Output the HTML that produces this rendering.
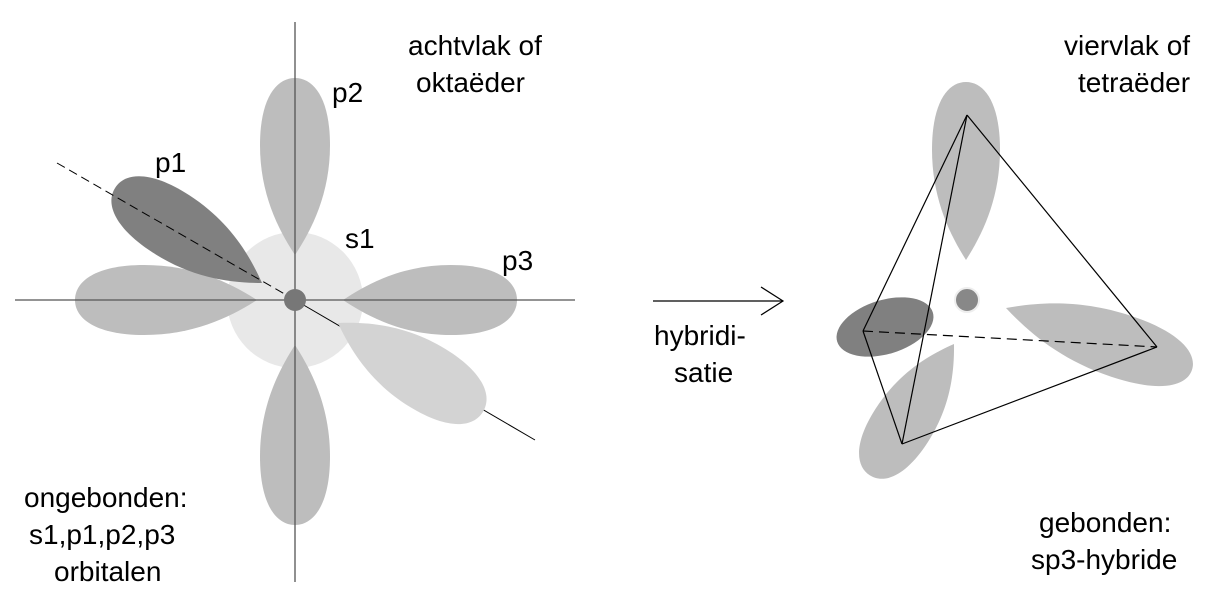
<!DOCTYPE html>
<html><head><meta charset="utf-8"><style>
html,body{margin:0;padding:0;background:#fff;}
svg{display:block;}
text{font-family:"Liberation Sans","DejaVu Sans",sans-serif;font-size:28px;fill:#000;}
</style></head><body>
<svg width="1209" height="608" viewBox="0 0 1209 608" xmlns="http://www.w3.org/2000/svg">
<defs>
<path id="tear" d="M0,0 C15,-10 35,-20 62,-20 C88,-20 100,-11 100,0 C100,11 88,20 62,20 C35,20 15,10 0,0Z"/>
</defs>
<!-- left diagram -->
<circle cx="295" cy="300" r="68" fill="#e8e8e8"/>
<line x1="295" y1="300" x2="535" y2="440" stroke="#000" stroke-width="1"/>
<use href="#tear" fill="#bdbdbd" transform="translate(295,255) rotate(-90) scale(1.77,1.75)"/>
<use href="#tear" fill="#bdbdbd" transform="translate(295,345) rotate(90) scale(1.8,1.75)"/>
<use href="#tear" fill="#bdbdbd" transform="translate(257,300) rotate(180) scale(1.82,1.75)"/>
<use href="#tear" fill="#bdbdbd" transform="translate(343,300) rotate(0) scale(1.74,1.75)"/>
<use href="#tear" fill="#808080" transform="translate(262,283) rotate(213) scale(1.75,1.7)"/>
<use href="#tear" fill="#d3d3d3" transform="translate(338,323) rotate(31.5) scale(1.7,1.7)"/>
<line x1="57" y1="163" x2="295" y2="300" stroke="#000" stroke-width="1" stroke-dasharray="9,5"/>
<line x1="295" y1="22" x2="295" y2="582" stroke="#555" stroke-width="1.3"/>
<line x1="15" y1="300" x2="575" y2="300" stroke="#555" stroke-width="1.3"/>
<circle cx="295" cy="300" r="11" fill="#777"/>
<text x="408" y="55">achtvlak of</text>
<text x="416" y="92">oktaëder</text>
<text x="332" y="102">p2</text>
<text x="155" y="172">p1</text>
<text x="345" y="248">s1</text>
<text x="502" y="270">p3</text>
<text x="24" y="507">ongebonden:</text>
<text x="29" y="544">s1,p1,p2,p3</text>
<text x="54" y="581">orbitalen</text>
<!-- arrow -->
<line x1="653" y1="301" x2="783" y2="301" stroke="#000" stroke-width="1.2"/>
<polyline points="761,287 783,301 761,315" fill="none" stroke="#000" stroke-width="1.2"/>
<text x="654" y="345">hybridi-</text>
<text x="674" y="382">satie</text>
<!-- right diagram -->
<use href="#tear" fill="#bdbdbd" transform="translate(966,260) rotate(-90) scale(1.78,1.7)"/>
<use href="#tear" fill="#bdbdbd" transform="translate(954,344) rotate(122.7) scale(1.56,1.55)"/>
<use href="#tear" fill="#bdbdbd" transform="translate(1006,308) rotate(18.4) scale(1.96,1.6)"/>
<ellipse cx="885" cy="327" rx="50" ry="27" transform="rotate(-17 885 327)" fill="#808080"/>
<circle cx="967" cy="300" r="12" fill="#888" stroke="#eee" stroke-width="2"/>
<g stroke="#000" stroke-width="1.2" fill="none">
<line x1="967" y1="115" x2="863" y2="331"/>
<line x1="967" y1="115" x2="902" y2="444"/>
<line x1="967" y1="115" x2="1157" y2="347"/>
<line x1="863" y1="331" x2="902" y2="444"/>
<line x1="902" y1="444" x2="1157" y2="347"/>
<line x1="863" y1="331" x2="1157" y2="347" stroke-dasharray="10,6"/>
</g>
<text x="1064" y="55">viervlak of</text>
<text x="1078" y="92">tetraëder</text>
<text x="1039" y="532">gebonden:</text>
<text x="1031" y="569">sp3-hybride</text>
</svg>
</body></html>
